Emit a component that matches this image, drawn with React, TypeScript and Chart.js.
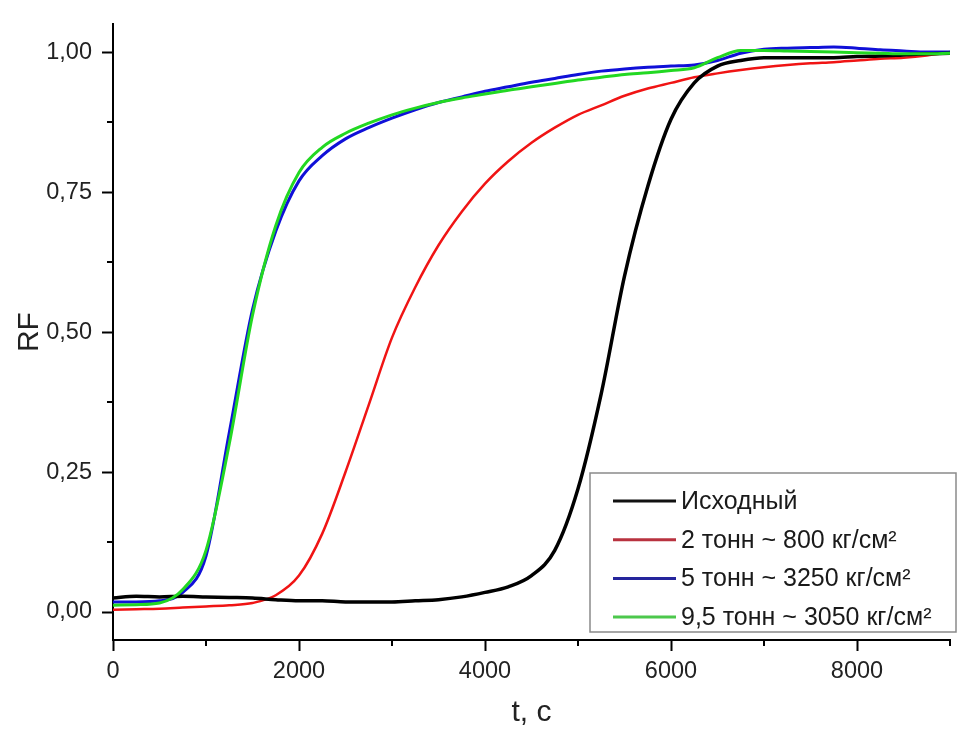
import React, { useEffect, useRef } from "react";
import { Chart, registerables } from "chart.js";

Chart.register(...registerables);

// time, s
const times = [
  0, 250, 500, 750, 1000, 1250, 1500, 1750, 2000, 2250, 2500, 2750, 3000, 3250, 3500, 3750,
  4000, 4250, 4500, 4750, 5000, 5250, 5500, 5750, 6000, 6250, 6500, 6750, 7000, 7250, 7500,
  7750, 8000, 8250, 8500, 8750, 9000,
];

const seriesLabels = [
  "Исходный",
  "2 тонн ~ 800 кг/см²",
  "5 тонн ~ 3250 кг/см²",
  "9,5 тонн ~ 3050 кг/см²",
];

const ishodny = [
  0.025, 0.028, 0.027, 0.028, 0.027, 0.026, 0.025, 0.022, 0.02, 0.02, 0.018, 0.018, 0.018, 0.02,
  0.022, 0.027, 0.035, 0.045, 0.065, 0.11, 0.22, 0.39, 0.6, 0.76, 0.88, 0.945, 0.975, 0.985, 0.99,
  0.99, 0.99, 0.99, 0.992, 0.993, 0.995, 0.997, 0.998,
];

const ton2 = [
  0.004, 0.005, 0.006, 0.008, 0.01, 0.012, 0.016, 0.03, 0.065, 0.14, 0.25, 0.37, 0.49, 0.58,
  0.655, 0.715, 0.765, 0.805, 0.838, 0.865, 0.888, 0.905, 0.922, 0.935, 0.945, 0.955, 0.962,
  0.968, 0.973, 0.977, 0.98, 0.982, 0.985, 0.988, 0.99, 0.994, 1.0,
];

const ton5 = [
  0.018, 0.018, 0.02, 0.035, 0.1, 0.32, 0.54, 0.68, 0.77, 0.815, 0.845, 0.865, 0.882, 0.897,
  0.91, 0.92, 0.93, 0.938, 0.946, 0.953, 0.96, 0.966, 0.97, 0.973, 0.975, 0.977, 0.985, 0.998,
  1.005, 1.007, 1.008, 1.009, 1.007, 1.004, 1.002, 1.0, 1.0,
];

const ton95 = [
  0.012, 0.013, 0.016, 0.04, 0.11, 0.3, 0.53, 0.69, 0.785, 0.83, 0.855, 0.873, 0.888, 0.9, 0.91,
  0.918, 0.925, 0.932, 0.938, 0.944, 0.95, 0.955, 0.96, 0.963, 0.967, 0.972, 0.99, 1.003, 1.003,
  1.002, 1.001, 1.0, 0.999, 0.998, 0.997, 0.997, 0.998,
];

const seriesColors = ["#000000", "#f01414", "#1010d8", "#22d822"];
const legendColors = ["#111111", "#b8323f", "#25259c", "#4cc84c"];

const yTicks = [0, 0.25, 0.5, 0.75, 1.0];
const yMinorTicks = [0.125, 0.375, 0.625, 0.875];
const xTicks = [0, 2000, 4000, 6000, 8000];
const xMinorTicks = [1000, 3000, 5000, 7000, 9000];

const FONT = "'Liberation Sans', Arial, Helvetica, sans-serif";

const minorTicksPlugin = {
  id: "minorTicks",
  afterDraw(chart: any) {
    const { ctx, chartArea, scales } = chart;
    ctx.save();
    ctx.strokeStyle = "#000";
    ctx.lineWidth = 2;
    ctx.beginPath();
    for (const v of xMinorTicks) {
      const px = Math.round(scales.x.getPixelForValue(v));
      ctx.moveTo(px, chartArea.bottom);
      ctx.lineTo(px, chartArea.bottom + 6);
    }
    for (const v of yMinorTicks) {
      const py = Math.round(scales.y.getPixelForValue(v));
      ctx.moveTo(chartArea.left - 6, py);
      ctx.lineTo(chartArea.left, py);
    }
    ctx.stroke();
    ctx.restore();
  },
};

const legendPlugin = {
  id: "boxLegend",
  afterDraw(chart: any) {
    const { ctx } = chart;
    const boxX = 590;
    const boxY = 473;
    const boxW = 366;
    const boxH = 159;
    ctx.save();
    ctx.fillStyle = "#ffffff";
    ctx.fillRect(boxX, boxY, boxW, boxH);
    ctx.strokeStyle = "#8a8a8a";
    ctx.lineWidth = 1.5;
    ctx.strokeRect(boxX, boxY, boxW, boxH);
    ctx.font = `25px ${FONT}`;
    ctx.textBaseline = "middle";
    ctx.textAlign = "left";
    chart.data.datasets.forEach((ds: any, i: number) => {
      const y = boxY + 28 + i * 38.7;
      ctx.strokeStyle = legendColors[i];
      ctx.lineWidth = 3;
      ctx.beginPath();
      ctx.moveTo(613, y);
      ctx.lineTo(676, y);
      ctx.stroke();
      ctx.fillStyle = "#1a1a1a";
      ctx.fillText(ds.label, 681, y + 1);
    });
    ctx.restore();
  },
};

export default function App() {
  const canvasRef = useRef<HTMLCanvasElement | null>(null);

  useEffect(() => {
    const canvas = canvasRef.current;
    if (!canvas) return;
    const seriesValues = [ishodny, ton2, ton5, ton95];
    const drawOrder = [1, 3, 2, 0];
    const widths = [3.5, 2.5, 3, 3];
    const chart = new Chart(canvas, {
      type: "line",
      data: {
        datasets: seriesValues.map((vals, i) => ({
          label: seriesLabels[i],
          data: times.map((t, j) => ({ x: t, y: vals[j] })),
          borderColor: seriesColors[i],
          backgroundColor: seriesColors[i],
          borderWidth: widths[i],
          pointRadius: 0,
          fill: false,
          cubicInterpolationMode: "monotone" as const,
          order: drawOrder[i],
        })),
      },
      options: {
        animation: false,
        responsive: false,
        maintainAspectRatio: false,
        layout: { padding: { left: 0, top: 20, right: 9, bottom: 0 } },
        plugins: {
          legend: { display: false },
          tooltip: { enabled: false },
        },
        scales: {
          x: {
            type: "linear",
            min: 0,
            max: 9000,
            afterBuildTicks: (scale: any) => {
              scale.ticks = xTicks.map((v) => ({ value: v }));
            },
            afterFit: (scale: any) => {
              scale.height = 89;
            },
            grid: {
              display: true,
              drawOnChartArea: false,
              drawTicks: true,
              tickLength: 11,
              tickWidth: 2,
              tickColor: "#000",
            },
            border: { display: true, color: "#000", width: 2 },
            ticks: {
              color: "#222",
              font: { family: FONT, size: 23.5 },
              padding: 6,
              maxRotation: 0,
              callback: (v: any) => String(v),
            },
            title: {
              display: true,
              text: "t, c",
              color: "#222",
              font: { family: FONT, size: 30 },
              padding: { top: 0, bottom: -2 },
            },
          },
          y: {
            type: "linear",
            min: -0.05,
            max: 1.05,
            afterBuildTicks: (scale: any) => {
              scale.ticks = yTicks.map((v) => ({ value: v }));
            },
            afterFit: (scale: any) => {
              scale.width = 113;
            },
            grid: {
              display: true,
              drawOnChartArea: false,
              drawTicks: true,
              tickLength: 11,
              tickWidth: 2,
              tickColor: "#000",
            },
            border: { display: true, color: "#000", width: 2 },
            ticks: {
              color: "#222",
              font: { family: FONT, size: 23.5 },
              padding: 10,
              callback: (v: any) => Number(v).toFixed(2).replace(".", ","),
            },
            title: {
              display: true,
              text: "RF",
              color: "#222",
              font: { family: FONT, size: 30 },
              padding: { top: 12, bottom: 0 },
            },
          },
        },
      },
      plugins: [minorTicksPlugin, legendPlugin],
    });
    return () => chart.destroy();
  }, []);

  return (
    <div style={{ position: "fixed", left: 0, top: 0, width: 959, height: 729, background: "#fff" }}>
      <canvas ref={canvasRef} width={959} height={729} style={{ display: "block" }} />
    </div>
  );
}
